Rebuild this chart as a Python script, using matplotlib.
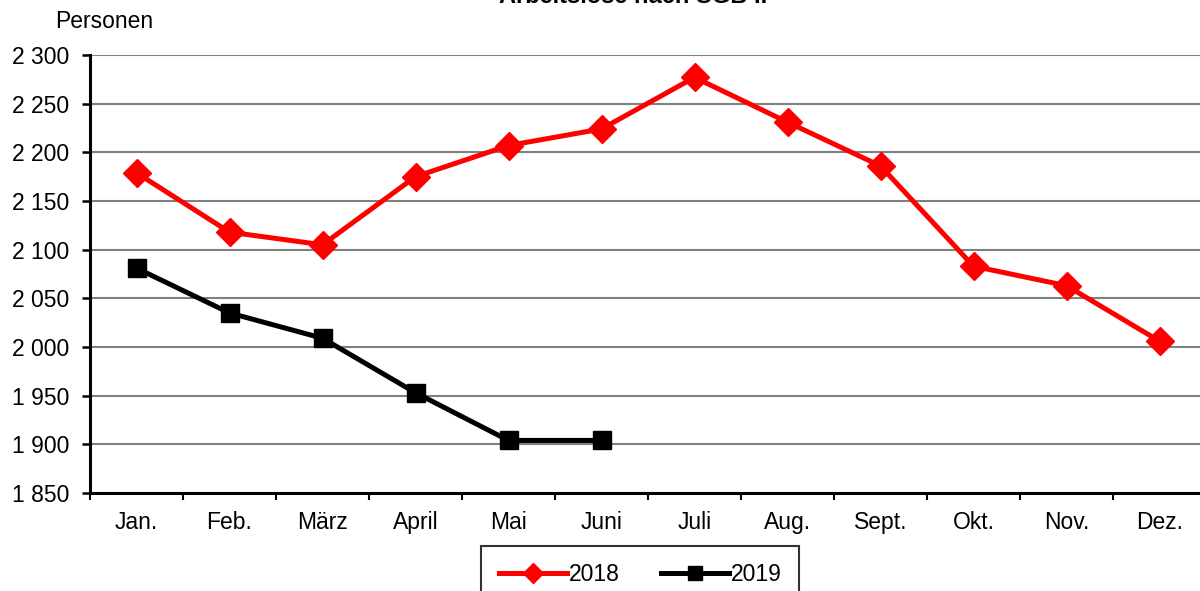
import matplotlib
matplotlib.use("Agg")
import matplotlib.pyplot as plt
from matplotlib.ticker import FixedLocator, FuncFormatter

plt.rcParams['font.family'] = ['Liberation Sans', 'DejaVu Sans']

months = ["Jan.", "Feb.", "März", "April", "Mai", "Juni", "Juli", "Aug.", "Sept.", "Okt.", "Nov.", "Dez."]
values_2018 = [2179, 2118, 2105, 2175, 2207, 2224, 2277, 2231, 2186, 2083, 2063, 2006]
values_2019 = [2081, 2035, 2009, 1953, 1904, 1904]
y_ticks = [1850, 1900, 1950, 2000, 2050, 2100, 2150, 2200, 2250, 2300]

W, H = 1200, 591
FS = 16.5
fig = plt.figure(figsize=(W / 100, H / 100), dpi=100)
ax = fig.add_axes([90 / W, 1 - 493 / H, 1116 / W, (493 - 55) / H])

x18 = list(range(len(values_2018)))
x19 = list(range(len(values_2019)))
ax.plot(x18, values_2018, color="#ff0000", lw=3.6, marker="D", ms=14, label="2018", zorder=3)
ax.plot(x19, values_2019, color="#000000", lw=3.6, marker="s", ms=13.5, label="2019", zorder=3)

ax.set_xlim(-0.5, 11.5)
ax.set_ylim(1850, 2300)
ax.yaxis.set_major_locator(FixedLocator(y_ticks))
ax.yaxis.set_major_formatter(FuncFormatter(lambda v, p: f"{int(v):,}".replace(",", " ")))
ax.set_xticks(x18)
ax.set_xticklabels(months)
ax.set_xticks([i - 0.5 for i in range(13)], minor=True)
ax.tick_params(axis="x", which="major", length=0, pad=13, labelsize=FS)
ax.tick_params(axis="x", which="minor", length=5, width=1.5, direction="out", color="black")
ax.tick_params(axis="y", which="major", length=6, width=1.8, direction="out", pad=9, labelsize=FS)

ax.grid(axis="y", color="#808080", lw=1.5, zorder=0)
ax.set_axisbelow(True)
for s in ["top", "right"]:
    ax.spines[s].set_visible(False)
ax.spines["left"].set_linewidth(2.2)
ax.spines["bottom"].set_linewidth(2.2)

fig.text(55 / W, 1 - 22 / H, "Personen", fontsize=FS, va="center", ha="left")
fig.text(633 / W, 1 - 3 / H, "Arbeitslose nach SGB II", fontsize=17, fontweight="bold",
         ha="center", va="baseline")

leg = fig.legend(loc="upper center", bbox_to_anchor=(640 / W, 1 - 546 / H), ncol=2,
                 frameon=True, fancybox=False, edgecolor="black", fontsize=FS,
                 handlelength=3.0, handletextpad=0.05, columnspacing=1.8, borderpad=0.75,
                 borderaxespad=0, markerscale=0.7)
leg.get_frame().set_linewidth(1.5)

fig.savefig("out.png", dpi=100)
